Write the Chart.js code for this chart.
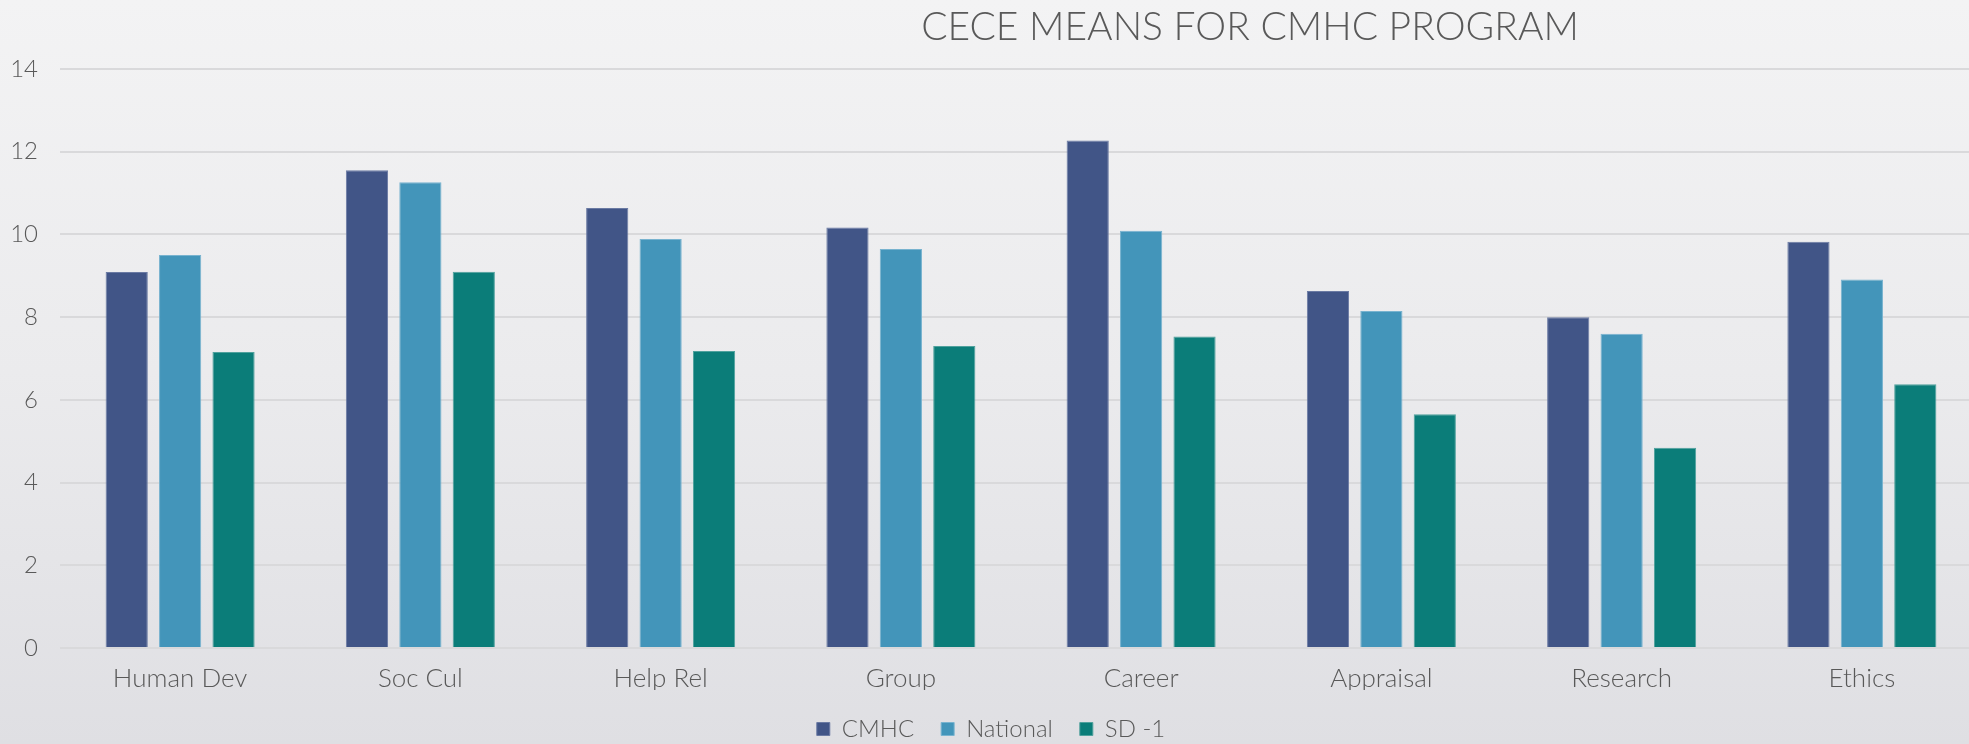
<!DOCTYPE html>
<html>
<head>
<meta charset="utf-8">
<script src="https://cdn.jsdelivr.net/npm/chart.js@4"></script>
<style>
  html, body { margin: 0; padding: 0; overflow: hidden; }
  #wrap {
    width: 1969px; height: 744px; overflow: hidden; position: relative;
    background: linear-gradient(to bottom, #f3f3f4 0%, #ebebed 50%, #dfdfe3 100%);
  }
  #box { width: 2000px; height: 744px; position: absolute; left: 0; top: 0; }
</style>
</head>
<body>
<div id="wrap"><div id="box"><canvas id="meansChart"></canvas></div></div>
<script>
const categories = ['Human Dev', 'Soc Cul', 'Help Rel', 'Group', 'Career', 'Appraisal', 'Research', 'Ethics'];
const cmhc = [9.09, 11.55, 10.64, 10.17, 12.27, 8.63, 8.00, 9.82];
const national = [9.50, 11.26, 9.89, 9.65, 10.09, 8.15, 7.60, 8.91];
const sdMinus1 = [7.16, 9.10, 7.18, 7.30, 7.53, 5.65, 4.84, 6.38];
const yTicks = [0, 2, 4, 6, 8, 10, 12, 14];

const chartTitle = 'CECE MEANS FOR CMHC PROGRAM';
const fontFamily = 'Lato, "Open Sans", sans-serif';
const textColor = '#595959';

// title sits right of centre in the original, so draw it ourselves
const titlePlugin = {
    id: 'offsetTitle',
    afterDraw(chart) {
        const c = chart.ctx;
        c.save();
        c.font = '300 39px ' + fontFamily;
        c.fillStyle = textColor;
        c.textAlign = 'center';
        c.textBaseline = 'middle';
        c.fillText(chartTitle, 1250, 27);
        c.restore();
    }
};

Chart.defaults.font.family = fontFamily;
Chart.defaults.font.weight = 300;
Chart.defaults.color = textColor;

const ctx = document.getElementById('meansChart').getContext('2d');
const meansChart = new Chart(ctx, {
    type: 'bar',
    data: {
        labels: categories,
        datasets: [
            { label: 'CMHC', data: cmhc, backgroundColor: '#415587', borderColor: '#6a7aa3' },
            { label: 'National', data: national, backgroundColor: '#4395ba', borderColor: '#78b3cf' },
            { label: 'SD -1', data: sdMinus1, backgroundColor: '#0b7d79', borderColor: '#4fa19d' }
        ]
    },
    options: {
        responsive: true,
        maintainAspectRatio: false,
        animation: false,
        datasets: {
            bar: {
                categoryPercentage: 0.667,
                barPercentage: 0.79,
                borderWidth: 1
            }
        },
        scales: {
            y: {
                min: 0,
                max: 14,
                afterBuildTicks: (scale) => { scale.ticks = yTicks.map(v => ({ value: v })); },
                afterFit: (scale) => { scale.width = 60; },
                border: { display: false },
                grid: { color: '#d9d9db', lineWidth: 2, drawTicks: false },
                ticks: { padding: 22, font: { size: 24, weight: 300 }, color: textColor }
            },
            x: {
                afterFit: (scale) => { scale.height = 42; },
                border: { display: false },
                grid: { display: false, drawTicks: false },
                ticks: { padding: 15, font: { size: 26, weight: 300 }, color: textColor }
            }
        },
        plugins: {
            legend: {
                position: 'bottom',
                maxHeight: 54,
                labels: {
                    boxWidth: 13,
                    boxHeight: 13,
                    padding: 27,
                    font: { size: 24, weight: 300 },
                    color: textColor
                }
            },
            tooltip: { enabled: false }
        },
        layout: {
            padding: { left: 0, right: 18, top: 69, bottom: 0 }
        }
    },
    plugins: [titlePlugin]
});
</script>
</body>
</html>
